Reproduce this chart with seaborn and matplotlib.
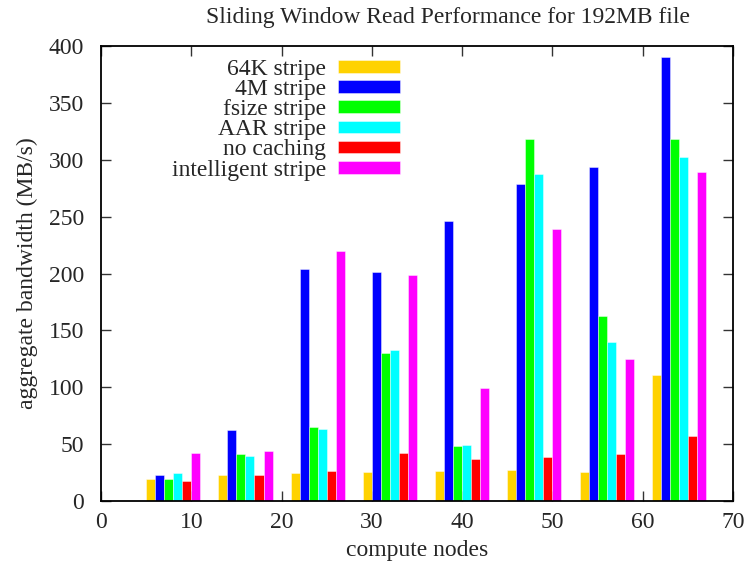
import matplotlib
matplotlib.use("Agg")
import matplotlib.pyplot as plt
import seaborn as sns
import pandas as pd

# Compute node counts (group centres on the x axis)
nodes = [8, 16, 24, 32, 40, 48, 56, 64]

# Aggregate bandwidth (MB/s) per striping configuration
stripe_64k = [19, 22.5, 24.5, 25.5, 26.5, 27.5, 25.5, 110.5]
stripe_4m = [23, 62, 204, 201, 246.5, 278.5, 293.5, 390.5]
stripe_fsize = [19, 41, 65, 130, 48, 318.5, 162.5, 318]
stripe_aar = [25, 40, 63, 132.5, 49.5, 287.5, 140, 302.5]
no_caching = [17.5, 23, 26, 42, 37, 38.5, 41, 57]
intelligent = [42, 44, 220, 198.5, 99, 239, 124.5, 289]

series_names = ["64K stripe", "4M stripe", "fsize stripe", "AAR stripe",
                "no caching", "intelligent stripe"]
series_values = [stripe_64k, stripe_4m, stripe_fsize, stripe_aar,
                 no_caching, intelligent]
colors = ["#FFD200", "#0000FF", "#00FF00", "#00FFFF", "#FF0000", "#FF00FF"]

rows = []
for name, vals in zip(series_names, series_values):
    for n, v in zip(nodes, vals):
        rows.append({"nodes": n, "bandwidth": v, "config": name})
df = pd.DataFrame(rows)

sns.set_theme(style="white")
plt.rcParams["font.family"] = ["Liberation Serif", "DejaVu Serif"]
plt.rcParams["font.size"] = 17

FS = 17

fig = plt.figure(figsize=(7.48, 5.68), dpi=100)
ax = fig.add_axes([101 / 748, 1 - 501 / 568, (733 - 101) / 748, (501 - 46) / 568])

sns.barplot(data=df, x="nodes", y="bandwidth", hue="config",
            hue_order=series_names, palette=colors, saturation=1,
            native_scale=True, width=0.75, gap=0, errorbar=None,
            linewidth=0.6, edgecolor="#ffffff80", ax=ax)

ax.set_xlim(0, 70)
ax.set_ylim(0, 400)
ax.set_xticks(range(0, 71, 10))
ax.set_yticks(range(0, 401, 50))
ax.set_xlabel("compute nodes", fontsize=FS, labelpad=5)
ax.set_ylabel("aggregate bandwidth (MB/s)", fontsize=FS, labelpad=8)

for side in ["left", "right", "top", "bottom"]:
    ax.spines[side].set_visible(True)
    ax.spines[side].set_color("black")
    ax.spines[side].set_linewidth(1.3)

ax.tick_params(axis="both", which="major", direction="in", length=7,
               width=1, color="#333333", labelsize=FS,
               top=True, right=True, bottom=True, left=True)
ax.tick_params(axis="y", pad=12)
ax.tick_params(axis="x", pad=8)

handles, labels = ax.get_legend_handles_labels()
ax.legend(handles, labels, loc="upper right",
          bbox_to_anchor=(412 / 748, 1 - 47 / 568),
          bbox_transform=fig.transFigure, frameon=False,
          markerfirst=False, borderpad=0, labelspacing=-0.035,
          handlelength=2.65, handleheight=0.45, handletextpad=0.5,
          fontsize=FS)

fig.text(448 / 748, 1 - 18 / 568,
         "Sliding Window Read Performance for 192MB file",
         ha="center", va="center", fontsize=FS)

fig.savefig("out.png", dpi=100)
